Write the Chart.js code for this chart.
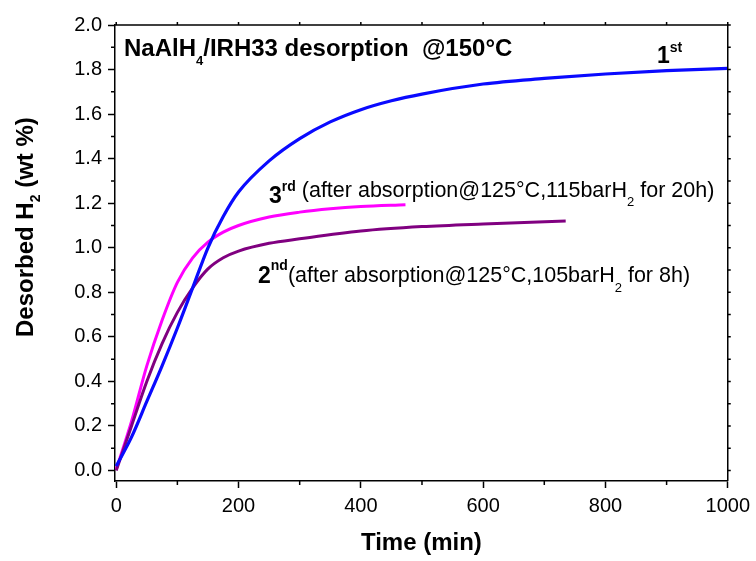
<!DOCTYPE html>
<html>
<head>
<meta charset="utf-8">
<script src="https://cdn.jsdelivr.net/npm/chart.js@4"></script>
<style>
  body { margin: 0; background: #fff; }
  canvas { display: block; }
</style>
</head>
<body>
<canvas id="desorptionChart" width="756" height="561"></canvas>
<script>
document.addEventListener('DOMContentLoaded', function(){

    // 1st desorption (blue)
    let time1 = [0, 25, 50, 75, 100, 125, 150, 175, 200, 250, 300, 350, 400, 450, 500, 600, 700, 800, 900, 1000];
    let h2_1 = [0.02, 0.15, 0.31, 0.47, 0.64, 0.82, 1.0, 1.14, 1.25, 1.39, 1.49, 1.565, 1.62, 1.66, 1.69, 1.735, 1.76, 1.78, 1.795, 1.805];

    // 2nd desorption (purple)
    let time2 = [0, 25, 50, 75, 100, 125, 150, 175, 200, 250, 300, 400, 500, 600, 735];
    let h2_2 = [0.0, 0.2, 0.4, 0.57, 0.71, 0.82, 0.905, 0.955, 0.985, 1.02, 1.04, 1.075, 1.095, 1.107, 1.12];

    // 3rd desorption (magenta)
    let time3 = [0, 25, 50, 75, 100, 125, 150, 175, 200, 250, 300, 350, 400, 473];
    let h2_3 = [0.005, 0.22, 0.47, 0.675, 0.845, 0.955, 1.025, 1.07, 1.1, 1.138, 1.16, 1.175, 1.185, 1.193];

    let xTicks = [0, 200, 400, 600, 800, 1000];
    let yTicks = [0.0, 0.2, 0.4, 0.6, 0.8, 1.0, 1.2, 1.4, 1.6, 1.8, 2.0];

    const FONT = 'Arial, "Liberation Sans", sans-serif';

    function toPoints(xs, ys)
    {
        let pts = [];
        for (let i = 0; i < xs.length; i++) {
            pts.push({x: xs[i], y: ys[i]});
        }
        return pts;
    }

    // draws a run of text pieces one after another (for super/subscripts)
    function drawRich(ctx, x, y, parts)
    {
        ctx.textAlign = 'left';
        ctx.textBaseline = 'alphabetic';
        for (const p of parts) {
            ctx.font = (p.bold ? 'bold ' : '') + p.size + 'px ' + FONT;
            ctx.fillText(p.text, x, y + (p.dy || 0));
            x += ctx.measureText(p.text).width;
        }
    }

    const framePlugin = {
        id: 'frame',
        afterDraw(chart) {
            let ctx = chart.ctx;
            let a = chart.chartArea;
            let xs = chart.scales.x;
            let ys = chart.scales.y;
            ctx.save();
            ctx.strokeStyle = '#000';
            ctx.lineWidth = 1.5;
            ctx.beginPath();
            ctx.moveTo(a.left, a.top);
            ctx.lineTo(a.right, a.top);
            ctx.lineTo(a.right, a.bottom);
            ctx.stroke();

            // minor ticks, plus small ticks on top/right
            ctx.beginPath();
            for (let v = 100; v < 1000; v += 200) {
                let px = xs.getPixelForValue(v);
                ctx.moveTo(px, a.bottom);
                ctx.lineTo(px, a.bottom + 4);
            }
            for (let v = 0; v <= 1000; v += 100) {
                let px = xs.getPixelForValue(v);
                ctx.moveTo(px, a.top);
                ctx.lineTo(px, a.top - 3);
            }
            for (let v = 0.1; v < 2.0; v += 0.2) {
                let py = ys.getPixelForValue(v);
                ctx.moveTo(a.left, py);
                ctx.lineTo(a.left - 4, py);
            }
            for (let v = 0; v <= 2.0001; v += 0.1) {
                let py = ys.getPixelForValue(v);
                ctx.moveTo(a.right, py);
                ctx.lineTo(a.right + 3, py);
            }
            ctx.stroke();

            ctx.fillStyle = '#000';
            drawRich(ctx, 124, 56, [
                {text: 'NaAlH', size: 24, bold: true},
                {text: '4', size: 13, bold: true, dy: 9},
                {text: '/IRH33 desorption  @150°C', size: 24, bold: true}
            ]);
            drawRich(ctx, 657, 63, [
                {text: '1', size: 23, bold: true},
                {text: 'st', size: 14, bold: true, dy: -11}
            ]);
            drawRich(ctx, 269, 203, [
                {text: '3', size: 23, bold: true},
                {text: 'rd', size: 14, bold: true, dy: -12},
                {text: ' (after absorption@125°C,115barH', size: 21.5, dy: -6},
                {text: '2', size: 13, dy: 3},
                {text: ' for 20h)', size: 21.5, dy: -6}
            ]);
            drawRich(ctx, 258, 283, [
                {text: '2', size: 23, bold: true},
                {text: 'nd', size: 14, bold: true, dy: -13},
                {text: '(after absorption@125°C,105barH', size: 21.5, dy: -1},
                {text: '2', size: 13, dy: 9},
                {text: ' for 8h)', size: 21.5, dy: -1}
            ]);

            // y axis title, rotated
            ctx.translate(33, 337);
            ctx.rotate(-Math.PI / 2);
            drawRich(ctx, 0, 0, [
                {text: 'Desorbed H', size: 24, bold: true},
                {text: '2', size: 14, bold: true, dy: 7},
                {text: ' (wt %)', size: 24, bold: true}
            ]);
            ctx.restore();
        }
    };

    let lineStyle = {
        pointRadius: 0,
        fill: false,
        cubicInterpolationMode: 'monotone'
    };

    new Chart(document.querySelector('#desorptionChart'), {
        type: 'line',
        data: {
            datasets: [
                Object.assign({label: '1st', data: toPoints(time1, h2_1), borderColor: '#0a0aff', borderWidth: 3.2}, lineStyle),
                Object.assign({label: '2nd', data: toPoints(time2, h2_2), borderColor: '#800080', borderWidth: 3}, lineStyle),
                Object.assign({label: '3rd', data: toPoints(time3, h2_3), borderColor: '#ff00ff', borderWidth: 3}, lineStyle)
            ]
        },
        options: {
            responsive: false,
            animation: false,
            layout: { padding: {top: 25, right: 28, left: 0, bottom: 0} },
            plugins: {
                legend: { display: false },
                tooltip: { enabled: false }
            },
            scales: {
                x: {
                    type: 'linear',
                    min: -2,
                    max: 1000,
                    afterBuildTicks: s => { s.ticks = xTicks.map(v => ({value: v})); },
                    afterFit: s => { s.height = 80; },
                    grid: { drawOnChartArea: false, tickLength: 7, tickWidth: 1.5, tickColor: '#000' },
                    border: { color: '#000', width: 1.5 },
                    ticks: { color: '#000', font: {family: FONT, size: 20}, padding: 6, maxRotation: 0, callback: v => String(v) },
                    title: { display: true, text: 'Time (min)', color: '#000', font: {family: FONT, size: 24, weight: 'bold'}, padding: {top: 0, bottom: 3} }
                },
                y: {
                    min: -0.047,
                    max: 2.0,
                    afterBuildTicks: s => { s.ticks = yTicks.map(v => ({value: v})); },
                    afterFit: s => { s.width = 115; },
                    grid: { drawOnChartArea: false, tickLength: 7, tickWidth: 1.5, tickColor: '#000' },
                    border: { color: '#000', width: 1.5 },
                    ticks: { color: '#000', font: {family: FONT, size: 20}, padding: 6, callback: v => v.toFixed(1) }
                }
            }
        },
        plugins: [framePlugin]
    });

});
</script>
</body>
</html>
